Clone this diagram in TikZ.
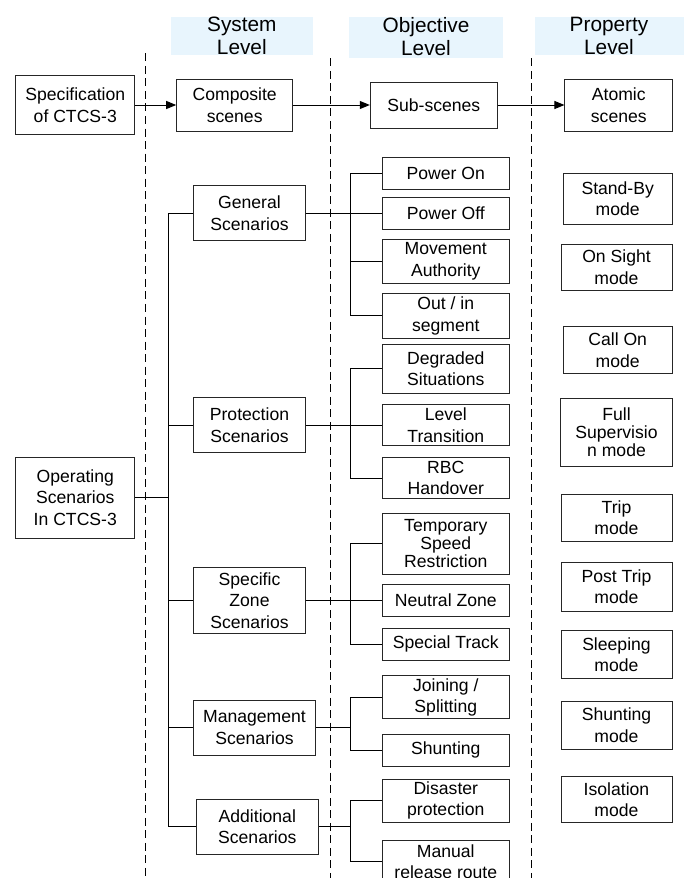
\documentclass[tikz,border=0pt]{standalone}
\usepackage{fontspec}
\setmainfont{Liberation Sans}
\usetikzlibrary{arrows.meta}
\definecolor{bandblue}{RGB}{232,245,253}

\begin{document}
\begin{tikzpicture}[x=0.75pt,y=-0.75pt,
  boxsize/.style 2 args={minimum width=#1*0.75pt,minimum height=#2*0.75pt},
  box/.style={draw=black!85,line width=0.75pt,align=center,inner sep=0pt,
    font=\fontsize{13.2}{16.1}\selectfont},
  tight/.style={font=\fontsize{13.2}{13.4}\selectfont},
  head/.style={align=center,inner sep=0pt,font=\fontsize{15.6}{17.5}\selectfont},
  level/.style={line width=0.75pt,dash pattern=on 6pt off 3.4pt},
  link/.style={line width=0.75pt},
  flow/.style={link,-{Triangle[length=7.5pt,width=6pt]}}]
\useasboundingbox (0,0) rectangle (684,878);
\clip (0,0) rectangle (684,878);
% Level headers
\fill[bandblue] (171,17.3) rectangle (312.7,55.3);
\fill[bandblue] (349.3,17.3) rectangle (503,57.7);
\fill[bandblue] (535.3,17.3) rectangle (684,55.3);
\node[head] (syslvl) at (241.8,36) {System\\Level};
\node[head] (objlvl) at (426,36.8) {Objective\\Level};
\node[head] (proplvl) at (609,36) {Property\\Level};
% Dashed level borders
\draw[level] (145.7,53.3) -- (145.7,878);
\draw[level] (330,58.3) -- (330,878);
\draw[level] (531,58.3) -- (531,878);
% Top row
\node[box,boxsize={118.7}{59.3}] (spec) at (75.3,105) {Specification\\of CTCS-3};
\node[box,boxsize={116}{52}] (comp) at (234.7,105) {Composite\\scenes};
\node[box,boxsize={127}{46}] (sub) at (433.8,105) {Sub-scenes};
\node[box,boxsize={107.7}{52}] (atom) at (618.8,105) {Atomic\\scenes};
\draw[flow] (spec) -- (comp);
\draw[flow] (comp) -- (sub);
\draw[flow] (sub) -- (atom);
% Root
\node[box,boxsize={118.7}{80.7}] (op) at (75.3,497.7) {Operating\\Scenarios\\In CTCS-3};
% System level
\node[box,boxsize={111.6}{55}] (gen) at (249.5,213.3) {General\\Scenarios};
\node[box,boxsize={111.6}{55.4}] (prot) at (249.5,425) {Protection\\Scenarios};
\node[box,boxsize={111.6}{66.7}] (zone) at (249.5,600.6) {Specific\\Zone\\Scenarios};
\node[box,boxsize={121.6}{55}] (mgmt) at (254.5,727.5) {Management\\Scenarios};
\node[box,boxsize={122}{54.7}] (add) at (257.3,826.7) {Additional\\Scenarios};
% Objective level
\node[box,boxsize={127}{31.7}] (pon) at (445.8,173.2) {Power On};
\node[box,boxsize={127}{32}] (poff) at (445.8,213.3) {Power Off};
\node[box,boxsize={127}{44.3}] (ma) at (445.8,261.2) {Movement\\Authority};
\node[box,boxsize={127}{45}] (oin) at (445.8,315.8) {Out / in\\segment};
\node[box,boxsize={127}{49}] (deg) at (445.8,368.8) {Degraded\\Situations};
\node[box,boxsize={127}{40.7}] (lt) at (445.8,425) {Level\\Transition};
\node[box,boxsize={127}{41.4}] (rbc) at (445.8,478) {RBC\\Handover};
\node[box,tight,boxsize={127}{60.7}] (tsr) at (445.8,543.7) {Temporary\\Speed\\Restriction};
\node[box,boxsize={127}{32.4}] (nz) at (445.8,600.6) {Neutral Zone};
\node[box,boxsize={127}{31.7}] (st) at (445.8,644.2) {Special Track};
\node[box,boxsize={127}{43.3}] (js) at (445.8,697.3) {Joining /\\Splitting};
\node[box,boxsize={127}{32}] (shu) at (445.8,750) {Shunting};
\node[box,boxsize={127}{43.3}] (dis) at (445.8,800.7) {Disaster\\protection};
\node[box,boxsize={127}{43.4}] (man) at (445.8,861.7) {Manual\\release route};
% Property level
\node[box,boxsize={108.7}{50.7}] (sb) at (617.7,198.7) {Stand-By\\mode};
\node[box,boxsize={111}{45.7}] (os) at (616.5,267.2) {On Sight\\mode};
\node[box,boxsize={108.7}{47.3}] (co) at (617.7,350.3) {Call On\\mode};
\node[box,tight,boxsize={111.6}{68.4}] (fs) at (616.5,432.5) {Full\\Supervisio\\n mode};
\node[box,boxsize={111}{46.7}] (trip) at (616.5,517.7) {Trip\\mode};
\node[box,boxsize={111}{48.7}] (pt) at (616.5,586.7) {Post Trip\\mode};
\node[box,boxsize={111}{48}] (sl) at (616.5,654.7) {Sleeping\\mode};
\node[box,boxsize={111}{48.3}] (shm) at (616.5,725.2) {Shunting\\mode};
\node[box,boxsize={111}{45.6}] (iso) at (616.5,799.5) {Isolation\\mode};
% Buses
\coordinate (sysbus) at (168,0);
\coordinate (objbus) at (350.7,0);
\draw[link] (op.east) -- (op.east -| sysbus);
\draw[link] (gen.west) -- (gen.west -| sysbus) -- (add.west -| sysbus) -- (add.west);
\foreach \n in {prot,zone,mgmt}
  \draw[link] (\n.west) -- (\n.west -| sysbus);
% General group
\draw[link] (gen.east) -- (poff.west);
\draw[link] (pon.west) -- (pon.west -| objbus) -- (oin.west -| objbus) -- (oin.west);
\draw[link] (ma.west) -- (ma.west -| objbus);
% Protection group
\draw[link] (prot.east) -- (lt.west);
\draw[link] (deg.west) -- (deg.west -| objbus) -- (rbc.west -| objbus) -- (rbc.west);
% Specific zone group
\draw[link] (zone.east) -- (nz.west);
\draw[link] (tsr.west) -- (tsr.west -| objbus) -- (st.west -| objbus) -- (st.west);
% Management group
\draw[link] (mgmt.east) -- (mgmt.east -| objbus);
\draw[link] (js.west) -- (js.west -| objbus) -- (shu.west -| objbus) -- (shu.west);
% Additional group
\draw[link] (add.east) -- (add.east -| objbus);
\draw[link] (dis.west) -- (dis.west -| objbus) -- (man.west -| objbus) -- (man.west);
\end{tikzpicture}
\end{document}
